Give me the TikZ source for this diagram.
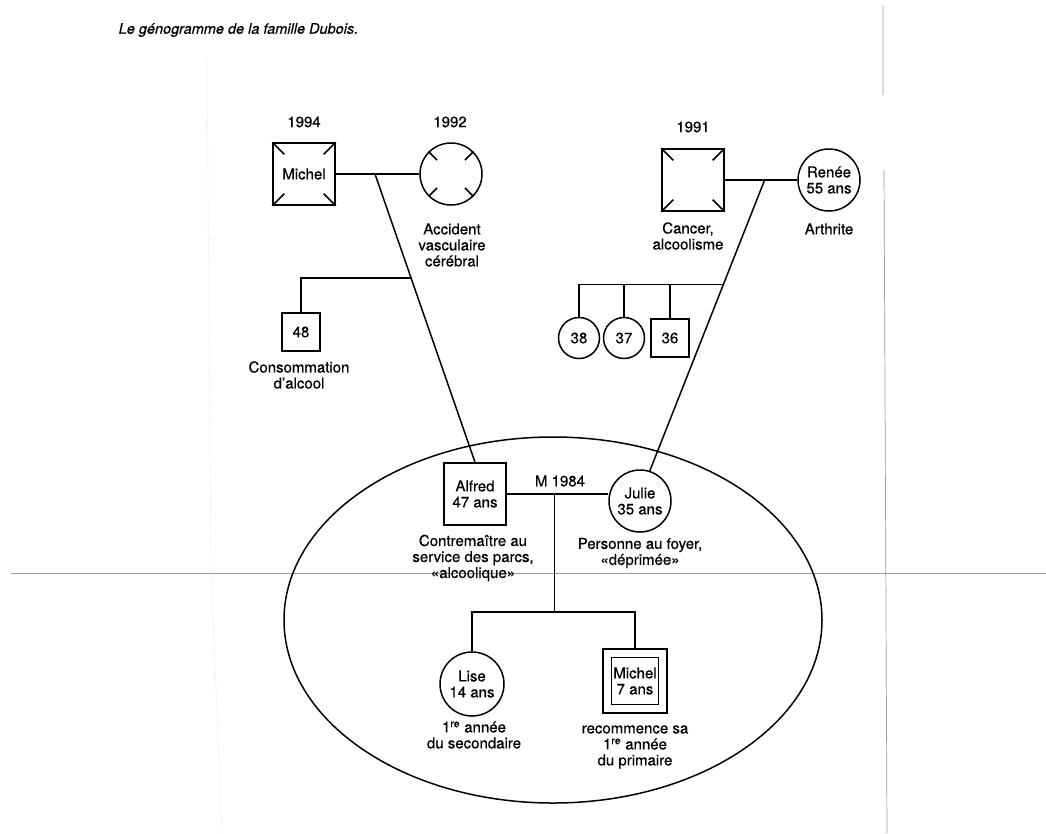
\documentclass[tikz,border=0pt]{standalone}
\usepackage{fontspec}
\setmainfont{TeX Gyre Heros}[FakeBold=0.5]
\usetikzlibrary{calc}
\begin{document}
\begin{tikzpicture}[x=1pt,y=-1pt,line width=1.5pt,
  every node/.style={font=\fontsize{15}{16}\selectfont,align=center,inner sep=0pt},
  male/.style={draw,minimum size=62pt},
  female/.style={draw,circle,minimum size=62pt},
  smallmale/.style={draw,minimum size=38pt},
  smallfemale/.style={draw,circle,minimum size=41pt},
  scan/.style={line width=0.7pt,gray!80}]
  \useasboundingbox (0,0) rectangle (1046,833);
  % traces du balayage
  \draw[scan] (11,573) -- (1046,573);
  \draw[scan] (883,5) -- (883,95) (884,170) -- (887,833);
  \draw[scan,gray!35,dotted] (207,60) -- (211,570) -- (222,833);
  \node[anchor=west,font=\fontsize{14.5}{16}\selectfont\itshape] (titre) at (118,30) {Le génogramme de la famille Dubois.};
  % grands-parents paternels
  \node[male] (gp1) at (304,174) {Michel};
  \node[female] (gm1) at (451,174) {};
  \node (a1) at (304,122) {1994};
  \node (a2) at (450,122) {1992};
  \node (avc) at (452,245) {Accident\\vasculaire\\cérébral};
  % grands-parents maternels
  \node[male] (gp2) at (693,180) {};
  \node[female] (gm2) at (829,180) {Renée\\55 ans};
  \node (a3) at (693,127) {1991};
  \node (cancer) at (688,236) {Cancer,\\alcoolisme};
  \node (arth) at (829,229) {Arthrite};
  % deces
  \foreach \n in {gp1,gm1,gp2}
    \foreach \a in {north west,north east,south west,south east}
      \draw (\n.\a) -- ($(\n.\a)!0.38!(\n.center)$);
  % oncle
  \node[smallmale] (oncle) at (301,332) {48};
  \node (alcool) at (299,375) {Consommation\\d’alcool};
  % tantes et oncle maternels
  \node[smallfemale] (t38) at (579,338) {38};
  \node[smallfemale] (t37) at (624,338) {37};
  \node[smallmale] (o36) at (670,338) {36};
  % couple
  \node[male] (alfred) at (475,494) {Alfred\\47 ans};
  \node[female] (julie) at (640,501) {Julie\\35 ans};
  \node (m84) at (560,481) {M 1984};
  \node (travail) at (473,558) {Contremaître au\\service des parcs,\\«alcoolique»};
  \node (foyer) at (640,553) {Personne au foyer,\\«déprimée»};
  % enfants
  \node[female,minimum size=64pt] (lise) at (472,684) {Lise\\14 ans};
  \node[male,minimum size=64pt] (michel) at (635,681) {};
  \node[draw,minimum size=47pt] (michel2) at (michel) {Michel\\7 ans};
  \node (sec) at (474,735) {1\textsuperscript{re} année\\du secondaire};
  \node (prim) at (635,747) {recommence sa\\1\textsuperscript{re} année\\du primaire};
  % menage
  \draw (553,620) ellipse (269 and 183);
  % liens
  \draw (gp1.east) -- (gm1.west);
  \coordinate (m1) at ($(gp1.east)!0.47!(gm1.west)$);
  \draw (m1) -- (alfred.north);
  \coordinate (s1) at ($(m1)!0.36!(alfred.north)$);
  \draw (s1) -| (oncle.north);
  \draw (gp2.east) -- (gm2.west);
  \coordinate (m2) at ($(gp2.east)!0.55!(gm2.west)$);
  \draw (m2) -- (julie.72);
  \coordinate (s2) at ($(m2)!0.36!(julie.72)$);
  \draw (s2) -| (t38.north);
  \draw (t37.north) -- (t37.north |- s2);
  \draw (o36.north) -- (o36.north |- s2);
  \draw (alfred.east) -- (alfred.east -| julie.west);
  \coordinate (m3) at ($(alfred.east)!0.47!(alfred.east -| julie.west)$);
  \coordinate (k) at (m3 |- 0,612);
  \draw (m3) -- (k);
  \draw (lise.north) |- (k) -| (michel.north);
\end{tikzpicture}
\end{document}
